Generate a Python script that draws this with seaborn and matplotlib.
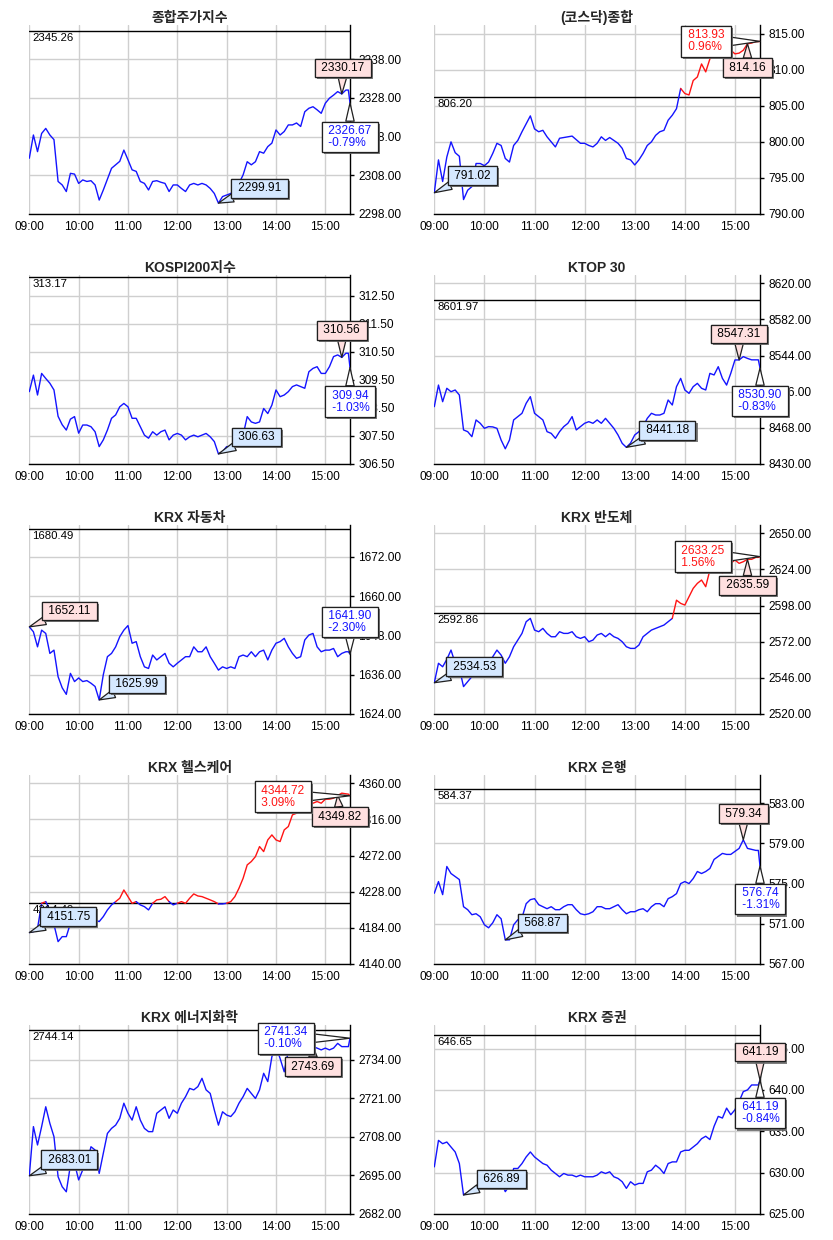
import numpy as np
import matplotlib
matplotlib.use("Agg")
import matplotlib.pyplot as plt
import matplotlib.patheffects as pe
import seaborn as sns

# ---------------- data ----------------
minutes = list(range(0, 390, 5)) + [388, 390]
xtick_minutes = [0, 60, 120, 180, 240, 300, 360]
xtick_labels = ["09:00", "10:00", "11:00", "12:00", "13:00", "14:00", "15:00"]

titles = ["종합주가지수", "(코스닥)종합", "KOSPI200지수", "KTOP 30", "KRX 자동차",
          "KRX 반도체", "KRX 헬스케어", "KRX 은행", "KRX 에너지화학", "KRX 증권"]

prev_close = [2345.26, 806.20, 313.17, 8601.97, 1680.49, 2592.86, 4214.49, 584.37, 2744.14, 646.65]
prev_labels = ["2345.26", "806.20", "313.17", "8601.97", "1680.49", "2592.86", "4214.49", "584.37", "2744.14", "646.65"]

kospi = [2312.4, 2318.4, 2314.1, 2318.8, 2320.1, 2318.4, 2317.2, 2306.4, 2305.5, 2303.8, 2308.5, 2308.3,
         2305.9, 2306.8, 2306.4, 2306.6, 2305.5, 2301.6, 2304.2, 2307.0, 2309.8, 2310.7, 2311.6, 2314.5,
         2312.0, 2309.4, 2309.0, 2306.4, 2305.9, 2304.2, 2306.4, 2306.6, 2306.2, 2305.9, 2303.8, 2305.5,
         2305.5, 2304.6, 2303.8, 2305.5, 2305.9, 2305.5, 2305.9, 2305.5, 2304.6, 2303.3, 2300.8, 2302.5,
         2302.9, 2303.3, 2304.2, 2305.9, 2308.1, 2311.5, 2310.7, 2311.5, 2314.1, 2313.7, 2315.4, 2316.3,
         2319.7, 2318.4, 2319.3, 2321.0, 2321.0, 2321.5, 2320.6, 2324.4, 2325.3, 2325.7, 2324.9, 2324.0,
         2326.6, 2327.9, 2328.7, 2329.6, 2329.0, 2330.0, 2330.0, 2326.67]
kosdaq = [792.95, 797.5, 794.5, 797.9, 800.0, 798.5, 798.0, 792.0, 793.3, 793.8, 797.0, 797.0,
          796.7, 797.2, 798.4, 799.8, 799.5, 797.7, 797.2, 799.5, 800.2, 801.4, 802.5, 803.6,
          801.8, 801.4, 801.6, 800.7, 800.0, 799.3, 800.5, 800.6, 800.7, 800.8, 800.3, 799.8,
          799.8, 799.5, 799.3, 799.8, 800.7, 800.2, 800.6, 800.2, 799.8, 799.1, 797.7, 797.5,
          796.8, 797.5, 798.4, 799.5, 800.0, 800.9, 801.4, 801.6, 803.0, 803.7, 804.6, 807.4,
          806.7, 806.5, 808.5, 809.0, 810.8, 809.7, 811.5, 812.2, 812.0, 812.5, 812.9, 812.7,
          812.2, 812.3, 812.7, 813.6, 813.7, 813.9, 813.9, 813.93]
kospi200 = [309.08, 309.67, 308.96, 309.73, 309.55, 309.38, 309.14, 308.2, 307.9, 307.71, 308.1, 308.19,
            307.6, 307.89, 307.89, 307.83, 307.65, 307.12, 307.36, 307.71, 308.13, 308.25, 308.54, 308.66,
            308.54, 308.13, 308.13, 307.83, 307.53, 307.42, 307.65, 307.53, 307.65, 307.71, 307.36, 307.53,
            307.59, 307.53, 307.36, 307.47, 307.53, 307.47, 307.53, 307.59, 307.47, 307.3, 306.86, 306.94,
            307.12, 307.12, 307.18, 307.3, 307.53, 308.19, 308.0, 307.95, 308.0, 308.48, 308.3, 308.6,
            309.14, 308.9, 308.96, 309.08, 309.26, 309.32, 309.26, 309.2, 309.79, 309.91, 309.97, 309.73,
            309.73, 309.97, 310.33, 310.39, 310.30, 310.45, 310.45, 309.94]
ktop30 = [8490.3, 8513.0, 8495.5, 8509.6, 8506.0, 8507.8, 8502.5, 8465.8, 8464.0, 8458.7, 8476.3, 8472.8,
          8467.5, 8469.3, 8469.0, 8467.5, 8455.2, 8446.0, 8455.2, 8476.3, 8479.8, 8483.3, 8493.8, 8500.8,
          8483.3, 8479.8, 8476.3, 8464.0, 8462.2, 8457.0, 8464.0, 8469.3, 8472.8, 8479.8, 8465.8, 8469.3,
          8472.8, 8474.5, 8472.8, 8476.3, 8472.8, 8478.0, 8472.8, 8467.5, 8460.5, 8451.7, 8447.5, 8452.0,
          8460.5, 8464.0, 8469.3, 8478.0, 8483.3, 8481.5, 8481.5, 8483.3, 8497.3, 8492.0, 8511.3, 8520.0,
          8507.8, 8504.3, 8511.3, 8514.8, 8509.6, 8507.8, 8525.3, 8523.6, 8532.3, 8520.0, 8513.0, 8525.3,
          8539.4, 8539.4, 8542.9, 8541.0, 8539.5, 8539.5, 8539.5, 8530.9]
auto = [1650.6, 1649.1, 1644.5, 1649.6, 1648.6, 1642.5, 1643.5, 1635.4, 1632.0, 1630.0, 1636.4, 1633.9,
        1635.0, 1633.9, 1634.2, 1633.4, 1632.4, 1628.3, 1636.0, 1641.5, 1642.5, 1644.5, 1647.6, 1649.6,
        1651.0, 1645.6, 1646.1, 1641.5, 1638.4, 1637.9, 1642.0, 1640.5, 1641.5, 1642.5, 1639.5, 1638.4,
        1639.5, 1640.5, 1641.5, 1641.5, 1644.5, 1643.0, 1643.0, 1644.5, 1641.5, 1639.5, 1637.4, 1638.4,
        1637.9, 1638.4, 1637.9, 1641.5, 1642.0, 1641.5, 1643.0, 1641.5, 1643.0, 1643.5, 1640.5, 1643.5,
        1645.6, 1646.1, 1647.1, 1644.5, 1642.5, 1641.0, 1641.5, 1646.6, 1648.1, 1648.6, 1644.5, 1643.0,
        1643.5, 1643.5, 1644.0, 1641.5, 1642.5, 1643.0, 1643.0, 1642.3]
semicon = [2542.5, 2556.5, 2554.0, 2559.3, 2566.0, 2556.5, 2552.9, 2539.7, 2543.3, 2546.9, 2552.9, 2554.0,
           2554.0, 2556.5, 2561.2, 2566.0, 2562.4, 2556.5, 2561.2, 2568.4, 2573.2, 2578.0, 2586.4, 2588.8,
           2580.4, 2579.2, 2581.6, 2578.0, 2575.6, 2575.6, 2579.2, 2578.0, 2578.0, 2579.2, 2575.6, 2574.4,
           2575.6, 2572.0, 2573.2, 2576.8, 2578.0, 2575.6, 2578.0, 2575.6, 2574.4, 2572.0, 2568.4, 2567.2,
           2567.2, 2569.6, 2575.6, 2578.0, 2580.4, 2581.6, 2582.8, 2584.0, 2586.4, 2588.8, 2601.9, 2599.6,
           2598.4, 2604.4, 2610.4, 2614.0, 2616.4, 2611.6, 2623.6, 2622.4, 2626.0, 2621.2, 2626.0, 2628.4,
           2630.8, 2628.4, 2629.6, 2631.3, 2631.3, 2632.7, 2632.7, 2633.25]
health = [4178.2, 4179.4, 4183.4, 4213.9, 4215.9, 4205.8, 4188.0, 4167.2, 4173.3, 4173.3, 4189.5, 4185.5,
          4189.5, 4191.6, 4189.5, 4195.6, 4193.6, 4191.6, 4197.7, 4205.8, 4211.9, 4215.9, 4220.0, 4230.1,
          4222.0, 4213.9, 4215.9, 4211.9, 4209.8, 4205.8, 4213.9, 4218.0, 4218.8, 4222.0, 4215.9, 4211.9,
          4213.9, 4215.9, 4213.9, 4220.0, 4225.3, 4222.8, 4222.0, 4220.0, 4218.0, 4215.9, 4213.1, 4213.1,
          4213.9, 4215.9, 4222.0, 4232.2, 4244.3, 4260.6, 4264.7, 4270.7, 4282.9, 4276.8, 4291.0, 4297.1,
          4291.0, 4289.0, 4303.2, 4307.3, 4321.5, 4323.5, 4329.6, 4335.7, 4333.7, 4335.7, 4337.7, 4335.7,
          4340.6, 4340.6, 4341.8, 4345.0, 4347.9, 4347.1, 4346.7, 4344.72]
bank = [574.04, 575.2, 573.9, 576.7, 576.0, 575.7, 575.4, 572.7, 572.4, 571.9, 572.0, 571.7,
        570.9, 570.6, 571.1, 571.9, 571.5, 569.4, 569.4, 570.9, 571.4, 571.6, 573.0, 573.4,
        573.5, 572.9, 572.7, 572.5, 572.7, 572.4, 572.4, 572.7, 572.9, 572.9, 572.4, 572.0,
        571.9, 572.0, 572.2, 572.7, 572.7, 572.5, 572.5, 572.7, 572.9, 572.4, 572.0, 572.2,
        572.2, 572.4, 572.5, 572.2, 572.7, 573.0, 573.0, 572.7, 573.5, 573.7, 574.0, 575.0,
        575.2, 575.0, 575.5, 576.2, 576.0, 576.2, 576.5, 577.4, 577.7, 578.0, 577.9, 577.9,
        578.2, 578.5, 579.35, 578.5, 578.4, 578.3, 578.3, 576.74]
energy = [2694.9, 2711.5, 2705.3, 2711.5, 2718.2, 2712.6, 2708.1, 2694.6, 2691.2, 2689.5, 2698.5, 2699.1,
          2693.5, 2696.9, 2699.1, 2704.7, 2703.6, 2695.7, 2702.5, 2709.2, 2710.9, 2712.0, 2714.3, 2719.4,
          2716.0, 2713.7, 2718.2, 2713.7, 2710.9, 2709.8, 2709.8, 2716.0, 2717.1, 2718.2, 2714.3, 2717.1,
          2716.0, 2719.4, 2721.6, 2724.4, 2723.9, 2725.0, 2727.8, 2723.9, 2722.7, 2717.1, 2712.0, 2716.5,
          2715.4, 2714.9, 2716.5, 2719.4, 2721.6, 2724.4, 2722.7, 2721.0, 2723.9, 2729.5, 2726.7, 2735.1,
          2738.5, 2734.5, 2730.0, 2737.0, 2737.4, 2737.4, 2737.4, 2737.4, 2736.8, 2738.5, 2738.0, 2737.4,
          2738.0, 2737.4, 2738.0, 2739.6, 2738.5, 2738.5, 2738.5, 2741.34]
securities = [630.7, 633.9, 633.5, 633.7, 633.1, 632.5, 631.1, 627.3, 627.6, 628.0, 628.2, 628.4,
              628.4, 628.5, 628.5, 628.7, 628.9, 627.7, 628.4, 630.5, 630.5, 631.1, 631.9, 632.5,
              631.9, 631.5, 631.1, 630.9, 630.3, 629.9, 629.5, 629.9, 629.7, 629.7, 629.5, 629.7,
              629.5, 629.5, 629.5, 629.7, 630.1, 629.9, 630.1, 629.5, 629.3, 628.9, 628.1, 628.9,
              628.5, 628.7, 628.7, 630.1, 630.3, 630.9, 630.5, 629.9, 631.1, 631.3, 631.3, 632.5,
              632.7, 632.7, 633.1, 633.5, 634.1, 634.4, 634.0, 635.6, 636.8, 636.6, 637.8, 637.0,
              637.6, 638.6, 639.8, 640.0, 640.6, 640.6, 640.6, 641.19]
series = [kospi, kosdaq, kospi200, ktop30, auto, semicon, health, bank, energy, securities]

yticks = [[2298, 2308, 2318, 2328, 2338],
          [790, 795, 800, 805, 810, 815],
          [306.5, 307.5, 308.5, 309.5, 310.5, 311.5, 312.5],
          [8430, 8468, 8506, 8544, 8582, 8620],
          [1624, 1636, 1648, 1660, 1672],
          [2520, 2546, 2572, 2598, 2624, 2650],
          [4140, 4184, 4228, 4272, 4316, 4360],
          [567, 571, 575, 579, 583],
          [2682, 2695, 2708, 2721, 2734],
          [625, 630, 635, 640, 645]]
ylims = [(2298, 2346.8), (790, 816.2), (306.5, 313.24), (8430, 8628.7), (1624, 1681.7),
         (2520, 2656), (4140, 4370), (567, 585.8), (2682, 2745.8), (625, 647.85)]

max_labels = ["2330.17", "814.16", "310.56", "8547.31", "1652.11", "2635.59", "4349.82", "579.34", "2743.69", "641.19"]
min_labels = ["2299.91", "791.02", "306.63", "8441.18", "1625.99", "2534.53", "4151.75", "568.87", "2683.01", "626.89"]
last_labels = ["2326.67", "813.93", "309.94", "8530.90", "1641.90", "2633.25", "4344.72", "576.74", "2741.34", "641.19"]
pct_labels = ["-0.79%", "0.96%", "-1.03%", "-0.83%", "-2.30%", "1.56%", "3.09%", "-1.31%", "-0.10%", "-0.84%"]
max_at = [380, 375, 380, 365, 0, 375, 375, 370, 345, 390]
min_at = [230, 0, 230, 230, 85, 0, 0, 85, 0, 35]

# ---------------- layout / style ----------------
max_off = [(1, 26), (0, -24), (0, 27), (0, 26), (40, 16), (0, -26), (2, -21), (0, 26), (0, -20), (0, 28)]
min_off = [(41, 15), (38, 17), (38, 17), (41, 17), (38, 16), (40, 16), (39, 16), (37, 17), (40, 16), (38, 16)]
last_off = [(0, -34), (-54, 0), (0, -34), (0, -33), (0, 32), (-57, 0), (-67, -1), (0, -33), (-64, 0), (0, -33)]

BLUE = "#1414FF"
RED = "#FF1414"
MAX_FC = "#FFE0E0"
MIN_FC = "#D5E8FF"

sns.set_style("white")
plt.rcParams["font.family"] = ["Liberation Sans", "Noto Sans CJK KR", "DejaVu Sans"]

W, H = 833, 1240
fig = plt.figure(figsize=(W / 100, H / 100), dpi=100)
col_x = [(29.3, 320.7), (434.3, 325.7)]


def draw_series(ax, t, v, prev):
    t = np.asarray(t, float)
    v = np.asarray(v, float)
    above = (v[:-1] + v[1:]) / 2 > prev
    start = 0
    n = len(above)
    for i in range(1, n + 1):
        if i == n or above[i] != above[start]:
            seg = slice(start, i + 1)
            sns.lineplot(x=t[seg], y=v[seg], ax=ax, color=RED if above[start] else BLUE,
                         lw=1.0, estimator=None, sort=False, legend=False, zorder=3)
            start = i


def callout(ax, x, y, text, off, fc, tc, align="center"):
    ann = ax.annotate(text, xy=(x, y), xytext=off, textcoords="offset pixels",
                      ha="center", va="center", fontsize=8.6, color=tc, zorder=10,
                      annotation_clip=False, linespacing=1.0, multialignment=align,
                      bbox=dict(boxstyle="square,pad=0.28", fc=fc, ec="#202020", lw=0.9),
                      arrowprops=dict(arrowstyle="wedge,tail_width=0.7,shrink_factor=0.5",
                                      fc=fc, ec="#202020", lw=0.9, shrinkA=0, shrinkB=0))
    ann.get_bbox_patch().set_path_effects(
        [pe.withSimplePatchShadow(offset=(1.5, -1.5), shadow_rgbFace="#707070", alpha=0.9), pe.Normal()])
    return ann


for k in range(10):
    r, c = divmod(k, 2)
    x0, w = col_x[c]
    top = 25 + 250 * r
    ax = fig.add_axes([x0 / W, 1 - (top + 189) / H, w / W, 189 / H])
    t = minutes
    v = series[k]
    draw_series(ax, t, v, prev_close[k])

    ax.axhline(prev_close[k], color="black", lw=1.0, zorder=2.5)
    ax.annotate(prev_labels[k], xy=(0, prev_close[k]), xycoords=("axes fraction", "data"),
                xytext=(3, -2), textcoords="offset pixels", ha="left", va="top",
                fontsize=8.2, color="black", zorder=4)

    ax.set_xlim(0, 390)
    ax.set_ylim(*ylims[k])
    ax.set_xticks(xtick_minutes)
    ax.set_xticklabels(xtick_labels)
    ax.set_yticks(yticks[k])
    ax.set_yticklabels([f"{val:.2f}" for val in yticks[k]])
    ax.yaxis.tick_right()
    ax.tick_params(axis="y", length=3, pad=3, labelsize=8.6, colors="black", width=1)
    ax.tick_params(axis="x", length=3, pad=2, labelsize=8.6, colors="black", width=1)
    ax.grid(True, color="#CFCFCF", lw=1.0)
    ax.set_axisbelow(True)
    for s in ["top", "left"]:
        ax.spines[s].set_visible(False)
    for s in ["bottom", "right"]:
        ax.spines[s].set_color("black")
        ax.spines[s].set_linewidth(1.0)
    ax.set_xlabel("")
    ax.set_ylabel("")
    ax.set_title(titles[k], fontsize=10, fontweight="bold", pad=2)

    vals = dict(zip(t, v))
    callout(ax, max_at[k], vals[max_at[k]], f" {max_labels[k]} ", max_off[k], MAX_FC, "black")
    callout(ax, min_at[k], vals[min_at[k]], f" {min_labels[k]} ", min_off[k], MIN_FC, "black")
    tc = BLUE if pct_labels[k].startswith("-") else RED
    callout(ax, t[-1], v[-1], f" {last_labels[k]} \n {pct_labels[k]}", last_off[k], "white", tc, align="left")

fig.savefig("out.png", dpi=100)
